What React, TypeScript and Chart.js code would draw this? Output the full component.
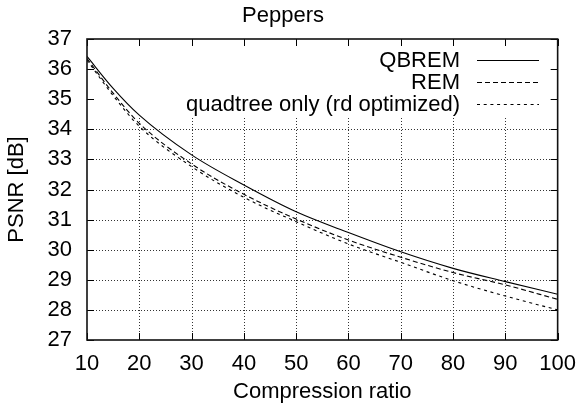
import React, { useEffect, useRef } from "react";
import { Chart, registerables } from "chart.js";

Chart.register(...registerables);

const compressionRatio = [10, 15, 20, 30, 40, 50, 60, 70, 80, 90, 100];
const qbrem = [36.42, 35.36, 34.47, 33.15, 32.15, 31.26, 30.57, 29.93, 29.38, 28.94, 28.52];
const rem = [36.35, 35.2, 34.2, 32.85, 31.84, 31.02, 30.32, 29.75, 29.24, 28.83, 28.35];
const quadtree = [36.3, 35.12, 34.1, 32.76, 31.74, 30.93, 30.19, 29.58, 28.97, 28.46, 28.0];
const seriesLabels = ["QBREM", "REM", "quadtree only (rd optimized)"];
const xTicks = [10, 20, 30, 40, 50, 60, 70, 80, 90, 100];
const yTicks = [27, 28, 29, 30, 31, 32, 33, 34, 35, 36, 37];

const FONT = "'Liberation Sans', Arial, Helvetica, sans-serif";
const FS = 22;
const dashes: number[][] = [[], [5, 3], [3, 3.7]];

const gnuplotPlugin = {
  id: "gnuplotFrame",
  beforeDatasetsDraw(chart: any) {
    const { ctx, chartArea: a, scales } = chart;
    const keyBottom = a.top + 79;
    ctx.save();
    ctx.strokeStyle = "#333";
    ctx.lineWidth = 1;
    ctx.setLineDash([1, 2]);
    for (const v of yTicks) {
      const py = Math.round(scales.y.getPixelForValue(v)) + 0.5;
      if (py < keyBottom || py >= a.bottom - 1) continue;
      ctx.beginPath();
      ctx.moveTo(a.left, py);
      ctx.lineTo(a.right, py);
      ctx.stroke();
    }
    for (const v of xTicks) {
      const px = Math.round(scales.x.getPixelForValue(v)) + 0.5;
      if (px <= a.left + 1 || px >= a.right - 1) continue;
      ctx.beginPath();
      ctx.moveTo(px, keyBottom);
      ctx.lineTo(px, a.bottom);
      ctx.stroke();
    }
    ctx.restore();
  },
  afterDatasetsDraw(chart: any) {
    const { ctx, chartArea: a, scales } = chart;
    ctx.save();
    ctx.setLineDash([]);
    ctx.strokeStyle = "#000";
    ctx.lineWidth = 1;
    const tl = 7;
    for (const v of yTicks) {
      const py = Math.round(scales.y.getPixelForValue(v)) + 0.5;
      ctx.beginPath();
      ctx.moveTo(a.left, py);
      ctx.lineTo(a.left + tl, py);
      ctx.moveTo(a.right, py);
      ctx.lineTo(a.right - tl, py);
      ctx.stroke();
    }
    for (const v of xTicks) {
      const px = Math.round(scales.x.getPixelForValue(v)) + 0.5;
      ctx.beginPath();
      ctx.moveTo(px, a.bottom);
      ctx.lineTo(px, a.bottom - tl);
      ctx.moveTo(px, a.top);
      ctx.lineTo(px, a.top + tl);
      ctx.stroke();
    }
    ctx.lineWidth = 1.6;
    ctx.strokeStyle = "#111";
    ctx.strokeRect(a.left, a.top, a.right - a.left, a.bottom - a.top);

    // key
    ctx.font = `${FS}px ${FONT}`;
    ctx.fillStyle = "#000";
    ctx.textAlign = "right";
    ctx.textBaseline = "middle";
    const textRight = a.left + 373;
    const sampleL = a.left + 390;
    const sampleR = a.left + 452;
    chart.data.datasets.forEach((ds: any, i: number) => {
      const y = a.top + 21 + i * 22;
      ctx.fillText(ds.label, textRight, y + 1);
      ctx.beginPath();
      ctx.lineWidth = 1.2;
      ctx.strokeStyle = "#000";
      ctx.setLineDash(dashes[i]);
      ctx.moveTo(sampleL, Math.round(y) + 0.5);
      ctx.lineTo(sampleR, Math.round(y) + 0.5);
      ctx.stroke();
    });
    ctx.restore();
  },
};

export default function App() {
  const ref = useRef<HTMLCanvasElement>(null);
  useEffect(() => {
    if (!ref.current) return;
    const series = [qbrem, rem, quadtree];
    const chart = new Chart(ref.current, {
      type: "line",
      data: {
        datasets: series.map((s, i) => ({
          label: seriesLabels[i],
          data: compressionRatio.map((x, j) => ({ x, y: s[j] })),
          borderColor: "#000",
          borderWidth: 1.1,
          borderDash: dashes[i],
          pointRadius: 0,
          fill: false,
          cubicInterpolationMode: "monotone" as const,
        })),
      },
      options: {
        animation: false,
        responsive: false,
        maintainAspectRatio: false,
        layout: { padding: { left: 0, right: 21, top: 0, bottom: 0 } },
        plugins: {
          legend: { display: false },
          tooltip: { enabled: false },
          title: {
            display: true,
            text: "Peppers",
            color: "#000",
            font: { family: FONT, size: FS, weight: "normal" },
            padding: { top: 3, bottom: 9.6 },
          },
        },
        scales: {
          x: {
            type: "linear",
            min: 10,
            max: 100,
            afterBuildTicks: (s: any) => {
              s.ticks = xTicks.map((v) => ({ value: v }));
            },
            afterFit: (s: any) => {
              s.height = 69;
            },
            grid: { display: false, drawTicks: false },
            border: { display: false },
            ticks: {
              color: "#000",
              padding: 11,
              maxRotation: 0,
              autoSkip: false,
              font: { family: FONT, size: FS },
            },
            title: {
              display: true,
              text: "Compression ratio",
              color: "#000",
              font: { family: FONT, size: FS },
              padding: { top: 4, bottom: 4 },
            },
          },
          y: {
            type: "linear",
            min: 27,
            max: 37,
            afterBuildTicks: (s: any) => {
              s.ticks = yTicks.map((v) => ({ value: v }));
            },
            afterFit: (s: any) => {
              s.width = 87;
            },
            grid: { display: false, drawTicks: false },
            border: { display: false },
            ticks: {
              color: "#000",
              padding: 15,
              autoSkip: false,
              font: { family: FONT, size: FS },
            },
            title: {
              display: true,
              text: "PSNR [dB]",
              color: "#000",
              font: { family: FONT, size: FS },
              padding: { top: 4, bottom: 4 },
            },
          },
        },
      },
      plugins: [gnuplotPlugin],
    });
    return () => chart.destroy();
  }, []);
  return (
    <div style={{ position: "fixed", left: 0, top: 0, width: 587, height: 409, background: "#fff" }}>
      <canvas ref={ref} width={587} height={409} style={{ width: 587, height: 409, display: "block" }} />
    </div>
  );
}
